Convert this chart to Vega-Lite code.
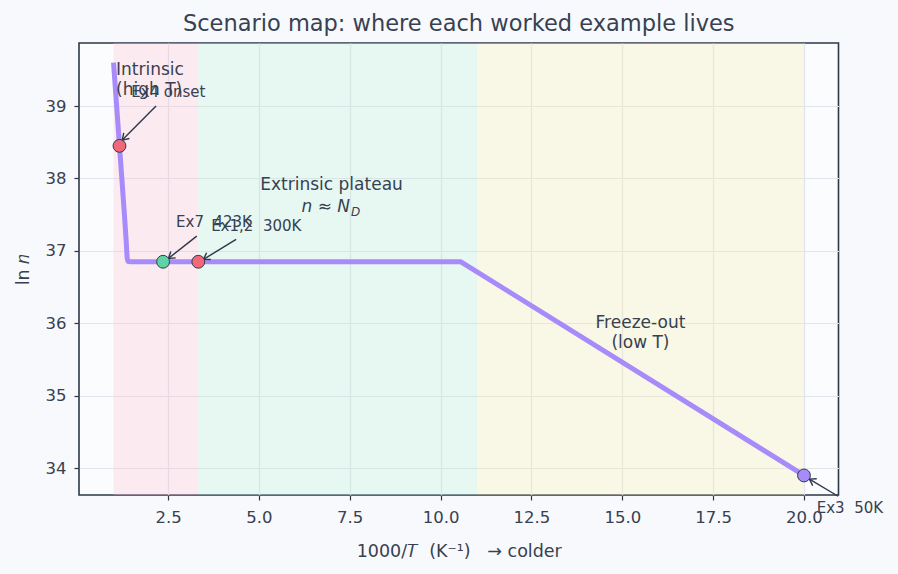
{
  "$schema": "https://vega.github.io/schema/vega-lite/v6.json",
  "width": 759.5,
  "height": 452,
  "autosize": {"type": "none"},
  "padding": {"left": 79, "top": 43, "right": 60, "bottom": 79},
  "background": "#f8f9fc",
  "title": {
    "text": "Scenario map: where each worked example lives",
    "fontSize": 22.5,
    "fontWeight": "normal",
    "color": "#374151",
    "anchor": "middle",
    "baseline": "alphabetic",
    "offset": 11,
    "dy": 21
  },
  "datasets": {
    "regions": [
      {"region": "intrinsic", "x0": 1.0, "x1": 3.333},
      {"region": "extrinsic", "x0": 3.333, "x1": 11.0},
      {"region": "freeze", "x0": 11.0, "x1": 20.0}
    ],
    "curve": [
      {"x": 1.0, "y": 39.6},
      {"x": 1.1, "y": 38.9},
      {"x": 1.2, "y": 38.2},
      {"x": 1.3, "y": 37.5},
      {"x": 1.35, "y": 37.12},
      {"x": 1.375, "y": 36.9},
      {"x": 1.4, "y": 36.855},
      {"x": 1.5, "y": 36.85},
      {"x": 10.56, "y": 36.85},
      {"x": 20.0, "y": 33.9}
    ],
    "points": [
      {"name": "Ex4", "x": 1.164, "y": 38.45},
      {"name": "Ex7", "x": 2.364, "y": 36.85},
      {"name": "Ex1,2", "x": 3.333, "y": 36.85},
      {"name": "Ex3", "x": 20.0, "y": 33.9}
    ],
    "arrows": [
      {"name": "Ex4", "x": 2.17, "y": 39.0, "x2": 1.24, "y2": 38.53},
      {"name": "Ex7", "x": 3.29, "y": 37.204, "x2": 2.51, "y2": 36.896},
      {"name": "Ex1,2", "x": 4.374, "y": 37.159, "x2": 3.475, "y2": 36.883},
      {"name": "Ex3", "x": 20.94, "y": 33.613, "x2": 20.15, "y2": 33.85}
    ],
    "labels": [
      {"kind": "bigLeft", "text": "Intrinsic\n(high T)", "x": 1.07, "y": 39.5},
      {"kind": "bigCenter", "text": "Extrinsic plateau", "x": 7.0, "y": 37.916},
      {"kind": "bigCenter", "text": "Freeze-out\n(low T)", "x": 15.5, "y": 36.003},
      {"kind": "small", "text": "Ex4 onset", "x": 1.486, "y": 39.19},
      {"kind": "small", "text": "Ex7\u00a0\u00a0423K", "x": 2.72, "y": 37.4},
      {"kind": "small", "text": "Ex1,2\u00a0\u00a0300K", "x": 3.686, "y": 37.34},
      {"kind": "small", "text": "Ex3\u00a0\u00a050K", "x": 20.35, "y": 33.448},
      {"kind": "mathMain", "text": "n ≈ N", "x": 7.51, "y": 37.605},
      {"kind": "mathSub", "text": "D", "x": 7.51, "y": 37.605}
    ]
  },
  "encoding": {
    "x": {
      "type": "quantitative",
      "scale": {"domain": [0.05, 20.95], "nice": false, "zero": false},
      "axis": {
        "title": "1000/𝑇\u00a0\u00a0(K⁻¹)\u00a0\u00a0\u00a0→ colder",
        "values": [2.5, 5, 7.5, 10, 12.5, 15, 17.5, 20],
        "format": ".1f"
      }
    },
    "y": {
      "type": "quantitative",
      "scale": {"domain": [33.63, 39.87], "nice": false, "zero": false},
      "axis": {
        "title": "ln 𝑛",
        "values": [34, 35, 36, 37, 38, 39],
        "format": "d"
      }
    }
  },
  "layer": [
    {
      "data": {"name": "regions"},
      "mark": {"type": "rect", "opacity": 0.32},
      "encoding": {
        "x": {"field": "x0", "type": "quantitative"},
        "x2": {"field": "x1"},
        "y": null,
        "color": {
          "field": "region",
          "type": "nominal",
          "scale": {"domain": ["intrinsic", "extrinsic", "freeze"], "range": ["#fcc3d0", "#bfebd6", "#f5ebb1"]},
          "legend": null
        }
      }
    },
    {
      "data": {"name": "curve"},
      "mark": {"type": "line", "color": "#a78bfa", "strokeWidth": 5, "strokeCap": "butt", "strokeJoin": "round"},
      "encoding": {
        "x": {"field": "x", "type": "quantitative"},
        "y": {"field": "y", "type": "quantitative"}
      }
    },
    {
      "data": {"name": "arrows"},
      "mark": {"type": "rule", "color": "#2d3748", "strokeWidth": 1.4, "clip": false},
      "encoding": {
        "x": {"field": "x", "type": "quantitative"},
        "y": {"field": "y", "type": "quantitative"},
        "x2": {"field": "x2"},
        "y2": {"field": "y2"}
      }
    },
    {
      "data": {"name": "arrows"},
      "transform": [{"filter": "datum.name === 'Ex4'"}],
      "mark": {"type": "point", "shape": "M-1,-0.65L0,0L-1,0.65", "angle": 135, "size": 150, "filled": false, "color": "#2d3748", "strokeWidth": 1.4, "opacity": 1},
      "encoding": {"x": {"field": "x2", "type": "quantitative"}, "y": {"field": "y2", "type": "quantitative"}}
    },
    {
      "data": {"name": "arrows"},
      "transform": [{"filter": "datum.name === 'Ex7'"}],
      "mark": {"type": "point", "shape": "M-1,-0.65L0,0L-1,0.65", "angle": 142.7, "size": 150, "filled": false, "color": "#2d3748", "strokeWidth": 1.4, "opacity": 1},
      "encoding": {"x": {"field": "x2", "type": "quantitative"}, "y": {"field": "y2", "type": "quantitative"}}
    },
    {
      "data": {"name": "arrows"},
      "transform": [{"filter": "datum.name === 'Ex1,2'"}],
      "mark": {"type": "point", "shape": "M-1,-0.65L0,0L-1,0.65", "angle": 148.5, "size": 150, "filled": false, "color": "#2d3748", "strokeWidth": 1.4, "opacity": 1},
      "encoding": {"x": {"field": "x2", "type": "quantitative"}, "y": {"field": "y2", "type": "quantitative"}}
    },
    {
      "data": {"name": "arrows"},
      "transform": [{"filter": "datum.name === 'Ex3'"}],
      "mark": {"type": "point", "shape": "M-1,-0.65L0,0L-1,0.65", "angle": 210.4, "size": 150, "filled": false, "color": "#2d3748", "strokeWidth": 1.4, "opacity": 1, "clip": false},
      "encoding": {"x": {"field": "x2", "type": "quantitative"}, "y": {"field": "y2", "type": "quantitative"}}
    },
    {
      "data": {"name": "points"},
      "mark": {"type": "point", "shape": "circle", "filled": true, "size": 165, "opacity": 1, "stroke": "#333a48", "strokeWidth": 1},
      "encoding": {
        "x": {"field": "x", "type": "quantitative"},
        "y": {"field": "y", "type": "quantitative"},
        "fill": {
          "field": "name",
          "type": "nominal",
          "scale": {"domain": ["Ex4", "Ex7", "Ex1,2", "Ex3"], "range": ["#f2687a", "#5fd3a6", "#f2687a", "#a78bfa"]},
          "legend": null
        }
      }
    },
    {
      "data": {"name": "labels"},
      "transform": [{"filter": "datum.kind === 'bigLeft'"}],
      "mark": {"type": "text", "align": "left", "baseline": "middle", "fontSize": 17, "lineHeight": 20, "lineBreak": "\n", "color": "#374151"},
      "encoding": {"x": {"field": "x", "type": "quantitative"}, "y": {"field": "y", "type": "quantitative"}, "text": {"field": "text"}}
    },
    {
      "data": {"name": "labels"},
      "transform": [{"filter": "datum.kind === 'bigCenter'"}],
      "mark": {"type": "text", "align": "center", "baseline": "middle", "fontSize": 17, "lineHeight": 20, "lineBreak": "\n", "color": "#374151"},
      "encoding": {"x": {"field": "x", "type": "quantitative"}, "y": {"field": "y", "type": "quantitative"}, "text": {"field": "text"}}
    },
    {
      "data": {"name": "labels"},
      "transform": [{"filter": "datum.kind === 'small'"}],
      "mark": {"type": "text", "align": "left", "baseline": "middle", "fontSize": 15, "color": "#374151", "clip": false},
      "encoding": {"x": {"field": "x", "type": "quantitative"}, "y": {"field": "y", "type": "quantitative"}, "text": {"field": "text"}}
    },
    {
      "data": {"name": "labels"},
      "transform": [{"filter": "datum.kind === 'mathMain'"}],
      "mark": {"type": "text", "align": "right", "baseline": "middle", "fontSize": 17, "fontStyle": "italic", "color": "#374151"},
      "encoding": {"x": {"field": "x", "type": "quantitative"}, "y": {"field": "y", "type": "quantitative"}, "text": {"field": "text"}}
    },
    {
      "data": {"name": "labels"},
      "transform": [{"filter": "datum.kind === 'mathSub'"}],
      "mark": {"type": "text", "align": "left", "baseline": "middle", "fontSize": 12, "fontStyle": "italic", "dx": 1, "dy": 5, "color": "#374151"},
      "encoding": {"x": {"field": "x", "type": "quantitative"}, "y": {"field": "y", "type": "quantitative"}, "text": {"field": "text"}}
    }
  ],
  "config": {
    "font": "DejaVu Sans",
    "view": {"stroke": "#2d3748", "strokeWidth": 1.6, "fill": "#fbfcfe"},
    "axis": {
      "grid": true,
      "gridColor": "#e1e4ec",
      "gridWidth": 1.2,
      "domain": false,
      "tickColor": "#2d3748",
      "tickSize": 5,
      "tickWidth": 1.2,
      "labelFontSize": 16.5,
      "labelColor": "#374151",
      "titleFontSize": 17.5,
      "titleFontWeight": "normal",
      "titleColor": "#374151"
    },
    "axisX": {"labelPadding": 9, "titlePadding": 17},
    "axisY": {"labelPadding": 8, "titlePadding": 13}
  }
}
